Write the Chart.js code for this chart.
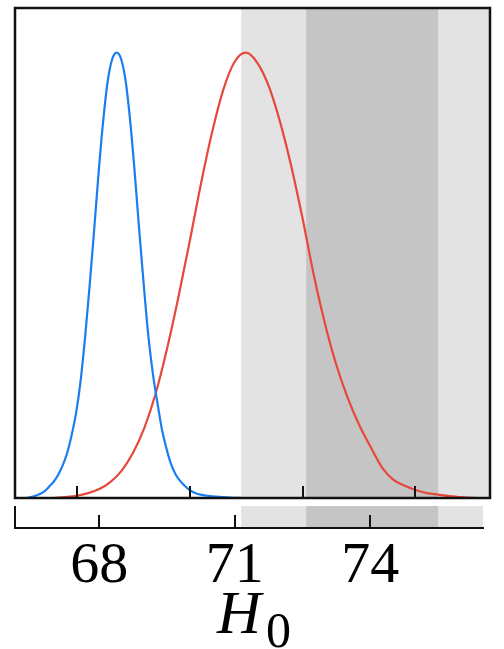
<!DOCTYPE html>
<html>
<head>
<meta charset="utf-8">
<title>H0 posteriors</title>
<script src="https://cdn.jsdelivr.net/npm/chart.js@4.4.0/dist/chart.umd.min.js"></script>
<style>
  html, body { margin: 0; padding: 0; background: #fff; }
  #wrap { position: relative; width: 504px; height: 649px; overflow: hidden; }
  #top-chart { position: absolute; left: 0; top: 0; }
  #axis-chart { position: absolute; left: 0; top: 500px; }
  .ax-title { position: absolute; font-family: 'Liberation Serif', serif; color: #000; white-space: nowrap; }
</style>
</head>
<body>
<div id="wrap">
  <canvas id="top-chart" width="504" height="500"></canvas>
  <canvas id="axis-chart" width="504" height="149"></canvas>
  <span class="ax-title" style="left:217px; top:582px; font-size:61px; line-height:61px; font-style:italic;">H</span>
  <span class="ax-title" style="left:266px; top:605px; font-size:50px; line-height:50px;">0</span>
</div>
<script>
'use strict';

// posterior curves (peak normalised to 1)
const blueX = [66.385, 66.485, 66.585, 66.685, 66.785, 66.885, 66.985, 67.085, 67.185, 67.285, 67.385,
  67.485, 67.585, 67.685, 67.785, 67.885, 67.985, 68.085, 68.185, 68.285, 68.385,
  68.485, 68.585, 68.685, 68.785, 68.885, 68.985, 69.085, 69.185, 69.285, 69.385,
  69.485, 69.585, 69.685, 69.785, 69.885, 69.985, 70.085, 70.185, 70.385, 70.585, 70.885, 71.185];
const blueY = [0, 0.002, 0.005, 0.009, 0.015, 0.025, 0.036, 0.051, 0.072, 0.100, 0.140,
  0.190, 0.262, 0.360, 0.475, 0.600, 0.730, 0.845, 0.935, 0.985, 1.0,
  0.985, 0.935, 0.845, 0.730, 0.600, 0.478, 0.365, 0.280, 0.215, 0.155,
  0.112, 0.077, 0.054, 0.039, 0.028, 0.019, 0.013, 0.009, 0.005, 0.003, 0.001, 0];

const redX = [67.0, 67.25, 67.5, 67.75, 68.0, 68.25, 68.5, 68.75, 69.0, 69.25, 69.5, 69.75, 70.0,
  70.25, 70.5, 70.75, 71.0, 71.25, 71.5, 71.75, 72.0, 72.25, 72.5, 72.75, 73.0, 73.25,
  73.5, 73.75, 74.0, 74.25, 74.5, 74.75, 75.0, 75.25, 75.5, 75.75, 76.0, 76.25, 76.5, 76.65];
const redY = [0, 0.002, 0.005, 0.011, 0.020, 0.036, 0.062, 0.102, 0.158, 0.235, 0.335, 0.450, 0.575,
  0.705, 0.822, 0.918, 0.980, 1.0, 0.977, 0.925, 0.845, 0.745, 0.628, 0.500, 0.390, 0.298,
  0.225, 0.165, 0.116, 0.070, 0.042, 0.028, 0.018, 0.011, 0.0075, 0.004, 0.002, 0.0005, 0, 0];

// shaded bands (1 and 2 sigma)
const BAND_1SIGMA = [72.58, 75.5];
const BAND_2SIGMA = [71.14, 76.9];

const TOP_TICKS = [67.5, 70, 72.5, 75];
const BOTTOM_TICKS = [68, 71, 74];

const X_MIN = 66.134;
const X_MAX_TOP = 76.65;
const X_MAX_BOTTOM = 76.495;

const LABEL_FONT = "58px 'Liberation Serif'";

const COLORS = {
  blue: '#1a7ef2',
  red: '#e8473b',
  band1: '#c5c5c5',
  band2: '#e3e3e3',
  axis: '#111',
};

function toPoints(xs, ys) {
  return xs.map((x, i) => ({ x, y: ys[i] }));
}

function fillBand(ctx, scale, area, band, color) {
  const x0 = Math.max(scale.getPixelForValue(band[0]), area.left);
  const x1 = Math.min(scale.getPixelForValue(band[1]), area.right);
  ctx.fillStyle = color;
  ctx.fillRect(x0, area.top, x1 - x0, area.bottom - area.top);
}

function innerTicks(ctx, scale, area, values, len) {
  ctx.beginPath();
  values.forEach(v => {
    const px = Math.round(scale.getPixelForValue(v));
    ctx.moveTo(px, area.bottom);
    ctx.lineTo(px, area.bottom - len);
  });
  ctx.stroke();
}

// main panel
const topDecor = {
  id: 'topDecor',
  beforeDraw(chart) {
    const { ctx, chartArea, scales } = chart;
    ctx.save();
    fillBand(ctx, scales.x, chartArea, BAND_2SIGMA, COLORS.band2);
    fillBand(ctx, scales.x, chartArea, BAND_1SIGMA, COLORS.band1);
    ctx.restore();
  },
  afterDatasetsDraw(chart) {
    const { ctx, chartArea: a, scales } = chart;
    ctx.save();
    ctx.strokeStyle = COLORS.axis;
    ctx.lineWidth = 2.5;
    ctx.strokeRect(a.left, a.top, a.right - a.left, a.bottom - a.top);
    ctx.lineWidth = 2;
    innerTicks(ctx, scales.x, a, TOP_TICKS, 12);
    ctx.restore();
  },
};

// lower axis strip: bands, spine, inward ticks and the serif tick labels
const axisDecor = {
  id: 'axisDecor',
  beforeDraw(chart) {
    const { ctx, chartArea, scales } = chart;
    ctx.save();
    fillBand(ctx, scales.x, chartArea, BAND_2SIGMA, COLORS.band2);
    fillBand(ctx, scales.x, chartArea, BAND_1SIGMA, COLORS.band1);
    ctx.restore();
  },
  afterDraw(chart) {
    const { ctx, chartArea: a, scales } = chart;
    ctx.save();
    ctx.strokeStyle = COLORS.axis;
    ctx.lineWidth = 2;
    ctx.beginPath();
    ctx.moveTo(a.left, a.top);
    ctx.lineTo(a.left, a.bottom);
    ctx.stroke();
    innerTicks(ctx, scales.x, a, BOTTOM_TICKS, 13);

    ctx.font = LABEL_FONT;
    ctx.fillStyle = '#000';
    ctx.textAlign = 'center';
    ctx.textBaseline = 'alphabetic';
    scales.x.ticks.forEach(t => {
      ctx.fillText(String(t.value), scales.x.getPixelForValue(t.value), a.bottom + 54);
    });
    ctx.restore();
  },
};

function lineSet(label, xs, ys, color) {
  return {
    label,
    data: toPoints(xs, ys),
    borderColor: color,
    borderWidth: 2.2,
    pointRadius: 0,
    cubicInterpolationMode: 'monotone',
    fill: false,
  };
}

function drawCharts() {
  new Chart(document.getElementById('top-chart'), {
    type: 'line',
    data: {
      datasets: [
        lineSet('blue', blueX, blueY, COLORS.blue),
        lineSet('red', redX, redY, COLORS.red),
      ],
    },
    options: {
      responsive: false,
      animation: false,
      layout: { padding: { left: 15, top: 8, right: 14, bottom: 2 } },
      plugins: { legend: { display: false }, tooltip: { enabled: false } },
      scales: {
        x: { type: 'linear', min: X_MIN, max: X_MAX_TOP, display: false },
        y: { min: 0, max: 1.1, display: false },
      },
    },
    plugins: [topDecor],
  });

  new Chart(document.getElementById('axis-chart'), {
    type: 'line',
    data: { datasets: [] },
    options: {
      responsive: false,
      animation: false,
      layout: { padding: { left: 15, top: 6, right: 21, bottom: 51 } },
      plugins: { legend: { display: false }, tooltip: { enabled: false } },
      scales: {
        x: {
          type: 'linear',
          position: 'bottom',
          min: X_MIN,
          max: X_MAX_BOTTOM,
          afterBuildTicks: scale => { scale.ticks = BOTTOM_TICKS.map(v => ({ value: v })); },
          afterFit: scale => { scale.height = 70; },
          grid: { drawOnChartArea: false, drawTicks: false },
          border: { display: true, color: COLORS.axis, width: 2 },
          ticks: { display: false },
        },
        y: { min: 0, max: 1, display: false },
      },
    },
    plugins: [axisDecor],
  });
}

// canvas text needs the serif face ready before the first draw
document.fonts.load(LABEL_FONT).then(drawCharts, drawCharts);
</script>
</body>
</html>
